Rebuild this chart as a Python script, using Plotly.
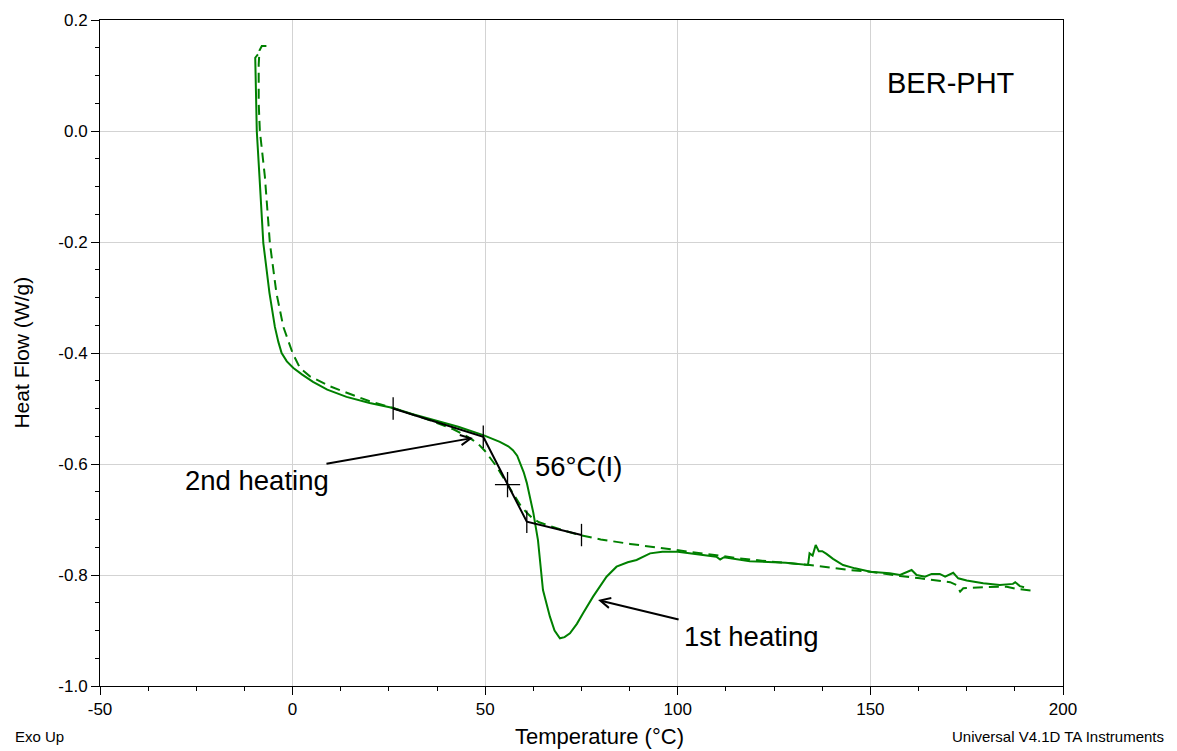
import plotly.graph_objects as go

# ---- data ----
first_T = [-9.0, -9.7, -9.6, -9.3, -8.6, -7.6, -6.0, -4.6, -3.7, -2.85, -1.5, 0.2, 2.5,
           5.3, 9.0, 14.0, 20.0, 26.1, 31.0, 36.5, 43.0, 49.5, 53.8, 56.0, 57.2, 58.3, 59.0,
           60.0, 60.8, 61.7, 62.5, 63.7, 65.0, 66.8, 68.0, 69.4, 70.6, 72.0, 73.8, 75.4, 78.0,
           81.5, 84.1, 87.0, 89.3, 92.8, 96.0, 100.0, 105.0, 110.0, 111.0, 112.0, 118.7, 123.9,
           128.0, 133.8, 134.2, 135.0, 135.8, 136.6, 137.5, 138.6, 140.3, 142.9, 146.0, 150.0,
           155.0, 157.7, 160.7, 162.0, 164.2, 165.9, 168.0, 169.4, 171.5, 172.8, 175.0, 179.3,
           183.6, 187.0, 187.6, 188.8, 189.9]
first_HF = [0.138, 0.132, 0.100, 0.000, -0.082, -0.202, -0.292, -0.353, -0.380, -0.400, -0.415,
            -0.427, -0.439, -0.452, -0.466, -0.479, -0.490, -0.499, -0.510, -0.521,
            -0.533, -0.548, -0.560, -0.568, -0.575, -0.585, -0.598, -0.615, -0.634, -0.660,
            -0.688, -0.737, -0.827, -0.875, -0.900, -0.914, -0.912, -0.905, -0.888, -0.869,
            -0.839, -0.803, -0.785, -0.777, -0.773, -0.761, -0.758, -0.758, -0.762, -0.767,
            -0.772, -0.768, -0.775, -0.776, -0.778, -0.782, -0.761, -0.765, -0.746, -0.757,
            -0.757, -0.762, -0.771, -0.782, -0.788, -0.794, -0.797, -0.800, -0.791, -0.800,
            -0.803, -0.798, -0.798, -0.803, -0.796, -0.806, -0.810, -0.815, -0.818, -0.816,
            -0.813, -0.820, -0.822]

second_T = [-6.8, -8.0, -8.6, -8.8, -8.8, -8.5, -7.2, -5.9, -4.2, -2.4, 0.0, 1.9, 4.5,
            7.1, 9.7, 12.3, 16.0, 20.0, 26.0, 31.0, 36.0, 41.6, 44.5, 46.8, 48.5, 50.0, 51.5,
            53.0, 55.0, 57.3, 59.2, 60.8, 62.5, 64.0, 66.0, 70.0, 74.6, 80.0, 87.6, 94.0, 100.0,
            105.0, 110.0, 116.0, 123.0, 128.0, 134.3, 140.0, 144.7, 150.0, 157.7, 162.9, 167.3,
            170.7, 172.3, 173.3, 174.1, 179.3, 185.4, 187.9, 191.9]
second_HF = [0.153, 0.153, 0.145, 0.120, 0.050, 0.000, -0.082, -0.202, -0.292, -0.353, -0.400,
             -0.427, -0.442, -0.451, -0.460, -0.467, -0.477, -0.487, -0.499, -0.510,
             -0.522, -0.537, -0.547, -0.557, -0.566, -0.577, -0.590, -0.605, -0.628, -0.655,
             -0.675, -0.688, -0.699, -0.705, -0.710, -0.719, -0.728, -0.736, -0.744, -0.750,
             -0.755, -0.759, -0.764, -0.770, -0.775, -0.778, -0.782, -0.787, -0.791, -0.794,
             -0.802, -0.806, -0.810, -0.813, -0.818, -0.830, -0.824, -0.822, -0.821, -0.825,
             -0.828]

# glass-transition construction (onset / endset tangents)
tg_T = [26.1, 49.5, 60.8, 75.0]
tg_HF = [-0.500, -0.551, -0.704, -0.728]
infl_T = [55.8]
infl_HF = [-0.637]

x_ticks = [-50, 0, 50, 100, 150, 200]
x_labels = ["-50", "0", "50", "100", "150", "200"]
y_ticks = [0.2, 0.0, -0.2, -0.4, -0.6, -0.8, -1.0]
y_labels = ["0.2", "0.0", "-0.2", "-0.4", "-0.6", "-0.8", "-1.0"]

FONT = "Liberation Sans, Arial, sans-serif"
GREEN = "#008000"

fig = go.Figure()
fig.add_trace(go.Scatter(x=first_T, y=first_HF, mode="lines",
                         line=dict(color=GREEN, width=2), name="1st heating"))
fig.add_trace(go.Scatter(x=second_T, y=second_HF, mode="lines",
                         line=dict(color=GREEN, width=2, dash="10px,6px"), name="2nd heating"))
fig.add_trace(go.Scatter(x=tg_T, y=tg_HF, mode="lines+markers",
                         line=dict(color="black", width=2),
                         marker=dict(symbol="line-ns-open", size=16, color="black",
                                     line=dict(color="black", width=1.3)),
                         name="Tg"))
fig.add_trace(go.Scatter(x=infl_T, y=infl_HF, mode="markers",
                         marker=dict(symbol="cross-thin-open", size=18, color="black",
                                     line=dict(color="black", width=1.3)),
                         name="inflection"))

ann = []
# arrows
ann.append(dict(x=46.8, y=-0.553, ax=8.4, ay=-0.600, xref="x", yref="y", axref="x", ayref="y",
                text="", showarrow=True, arrowhead=5, arrowsize=1.0, arrowwidth=2,
                arrowcolor="black"))
ann.append(dict(x=79.3, y=-0.845, ax=100.6, ay=-0.881, xref="x", yref="y", axref="x", ayref="y",
                text="", showarrow=True, arrowhead=5, arrowsize=1.0, arrowwidth=2,
                arrowcolor="black"))
# labels in data space
ann.append(dict(x=-28.5, y=-0.629, xref="x", yref="y", text="2nd heating", showarrow=False,
                xanchor="left", yanchor="middle", font=dict(family=FONT, size=27.5, color="black")))
ann.append(dict(x=101.1, y=-0.910, xref="x", yref="y", text="1st heating", showarrow=False,
                xanchor="left", yanchor="middle", font=dict(family=FONT, size=27.5, color="black")))
ann.append(dict(x=62.4, y=-0.605, xref="x", yref="y", text="56°C(I)", showarrow=False,
                xanchor="left", yanchor="middle", font=dict(family=FONT, size=27.5, color="black")))
ann.append(dict(x=153.8, y=0.087, xref="x", yref="y", text="BER-PHT", showarrow=False,
                xanchor="left", yanchor="middle", font=dict(family=FONT, size=29, color="black")))
# axis titles & footer texts
ann.append(dict(x=0.519, y=0, xref="paper", yref="paper", yshift=-50, text="Temperature (°C)",
                showarrow=False, xanchor="center", yanchor="middle",
                font=dict(family=FONT, size=22, color="black")))
ann.append(dict(x=-0.0825, y=0.5, xref="paper", yref="paper", text="Heat Flow (W/g)",
                textangle=-90, showarrow=False, xanchor="center", yanchor="middle",
                borderpad=0, font=dict(family=FONT, size=21, color="black")))
ann.append(dict(x=-0.0903, y=0, xref="paper", yref="paper", yshift=-50, text="Exo Up",
                showarrow=False, xanchor="left", yanchor="middle",
                font=dict(family=FONT, size=15, color="black")))
ann.append(dict(x=1.107, y=0, xref="paper", yref="paper", yshift=-50,
                text="Universal V4.1D TA Instruments",
                showarrow=False, xanchor="right", yanchor="middle",
                font=dict(family=FONT, size=15, color="black")))

fig.update_layout(
    width=1177, height=751,
    margin=dict(l=92, r=122, t=12, b=73),
    paper_bgcolor="white", plot_bgcolor="white",
    showlegend=False,
    annotations=ann,
    font=dict(family=FONT, size=17, color="black"),
)
fig.update_xaxes(range=[-50, 200], tickvals=x_ticks, ticktext=x_labels, automargin=False,
                 showgrid=True, gridcolor="#d3d3d3", gridwidth=1,
                 showline=True, linecolor="black", linewidth=1, mirror=True,
                 ticks="outside", ticklen=8, tickcolor="black",
                 minor=dict(dtick=12.5, tick0=-50, ticks="outside", ticklen=4,
                            tickcolor="black", showgrid=False),
                 tickfont=dict(family=FONT, size=17, color="black"), zeroline=False)
fig.update_yaxes(range=[-1.0, 0.2], tickvals=y_ticks, ticktext=y_labels, automargin=False,
                 showgrid=True, gridcolor="#d3d3d3", gridwidth=1,
                 showline=True, linecolor="black", linewidth=1, mirror=True,
                 ticks="outside", ticklen=8, tickcolor="black",
                 minor=dict(dtick=0.05, tick0=0, ticks="outside", ticklen=4,
                            tickcolor="black", showgrid=False),
                 tickfont=dict(family=FONT, size=17, color="black"), zeroline=False)

fig.write_html("out.html")
